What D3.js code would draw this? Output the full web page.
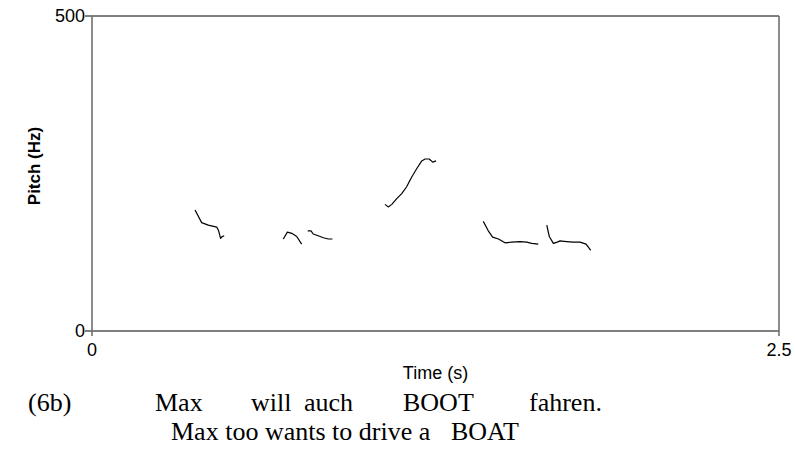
<!DOCTYPE html>
<html lang="en">
<head>
  <meta charset="utf-8" />
  <title>Pitch track (6b)</title>
  <script src="https://cdn.jsdelivr.net/npm/d3@7"></script>
  <style>
    body { margin:0; background:#fff; }
    .tick-label { font-family: Arial, "Liberation Sans", sans-serif; font-size:18px; fill:#000; }
    .gloss { font-family: "Times New Roman", "Liberation Serif", serif; font-size:26px; fill:#000; }
    .pitch { fill:none; stroke:#000; stroke-width:1.2; stroke-linejoin:round; }
  </style>
</head>
<body>
<div id="chart"></div>
<script>
// --- data: pitch segments, [time (s), pitch (Hz)] ---------------------------
const seg1 = [[0.375,192],[0.399,172],[0.423,168],[0.454,165],[0.460,160],[0.468,147],[0.474,150],[0.481,151]];
const seg2 = [[0.696,146],[0.711,157],[0.727,155],[0.745,150],[0.763,138]];
const seg3 = [[0.785,159],[0.797,159],[0.805,154],[0.818,152],[0.842,148],[0.860,146],[0.875,146]];
const seg4 = [[1.066,201],[1.078,197],[1.091,201],[1.109,210],[1.127,218],[1.145,229],[1.163,244],
              [1.182,258],[1.200,270],[1.212,273],[1.227,273],[1.240,268],[1.252,270]];
const seg5 = [[1.424,174],[1.442,159],[1.458,149],[1.479,146],[1.503,140],[1.527,141],[1.558,142],
              [1.582,141],[1.600,139],[1.624,138]];
const seg6 = [[1.655,168],[1.664,150],[1.679,139],[1.693,141],[1.703,143],[1.727,142],[1.752,141],
              [1.776,141],[1.798,138],[1.815,128]];
const segments = [seg1, seg2, seg3, seg4, seg5, seg6];

const xTicks = [0, 2.5];
const yTicks = [0, 500];

// glosses under the chart
const line1Words = ["(6b)", "Max", "will", "auch", "BOOT", "fahren."];
const line1X     = [28, 155, 251, 304, 403, 529];
const line2Words = ["Max too wants to drive a", "BOAT"];
const line2X     = [171, 451];

// --- layout -------------------------------------------------------------------
const W = 795, H = 450;
const plot = { left:92, right:779, top:16, bottom:331 };

const svg = d3.select("#chart").append("svg")
  .attr("width", W).attr("height", H);

const x = d3.scaleLinear().domain([0, 2.5]).range([plot.left, plot.right]);
const y = d3.scaleLinear().domain([0, 500]).range([plot.bottom, plot.top]);

// frame: top/bottom black, sides gray
svg.append("line").attr("x1", x(0) - 7).attr("x2", x(2.5)).attr("y1", y(500)).attr("y2", y(500))
  .attr("stroke", "#000").attr("stroke-width", 1);
svg.append("line").attr("x1", x(0) - 7).attr("x2", x(2.5)).attr("y1", y(0)).attr("y2", y(0))
  .attr("stroke", "#000").attr("stroke-width", 1);
svg.append("line").attr("x1", x(0)).attr("x2", x(0)).attr("y1", y(500)).attr("y2", y(0) + 5)
  .attr("stroke", "#707070").attr("stroke-width", 1.6);
svg.append("line").attr("x1", x(2.5)).attr("x2", x(2.5)).attr("y1", y(500)).attr("y2", y(0) + 5)
  .attr("stroke", "#707070").attr("stroke-width", 1.6);

// tick labels
svg.selectAll(".ylab").data(yTicks).join("text")
  .attr("class", "tick-label")
  .attr("x", x(0) - 7).attr("y", d => y(d))
  .attr("dy", "0.36em")
  .attr("text-anchor", "end")
  .text(d => d);

svg.selectAll(".xlab").data(xTicks).join("text")
  .attr("class", "tick-label")
  .attr("x", d => x(d)).attr("y", y(0) + 25)
  .attr("text-anchor", "middle")
  .text(d => d);

// axis titles
svg.append("text").attr("class", "tick-label")
  .attr("x", (plot.left + plot.right) / 2).attr("y", 379)
  .attr("text-anchor", "middle")
  .text("Time (s)");

svg.append("text")
  .attr("transform", "translate(40,166) rotate(-90)")
  .attr("text-anchor", "middle")
  .style("font-family", "Arial, 'Liberation Sans', sans-serif")
  .style("font-size", "17px").style("font-weight", "bold")
  .text("Pitch (Hz)");

// pitch contours
const line = d3.line().x(d => x(d[0])).y(d => y(d[1]));
svg.selectAll(".pitch").data(segments).join("path")
  .attr("class", "pitch").attr("d", line);

// gloss lines
svg.selectAll(".g1").data(line1Words).join("text")
  .attr("class", "gloss").attr("x", (d, i) => line1X[i]).attr("y", 411).text(d => d);
svg.selectAll(".g2").data(line2Words).join("text")
  .attr("class", "gloss").attr("x", (d, i) => line2X[i]).attr("y", 440).text(d => d);
</script>
</body>
</html>
